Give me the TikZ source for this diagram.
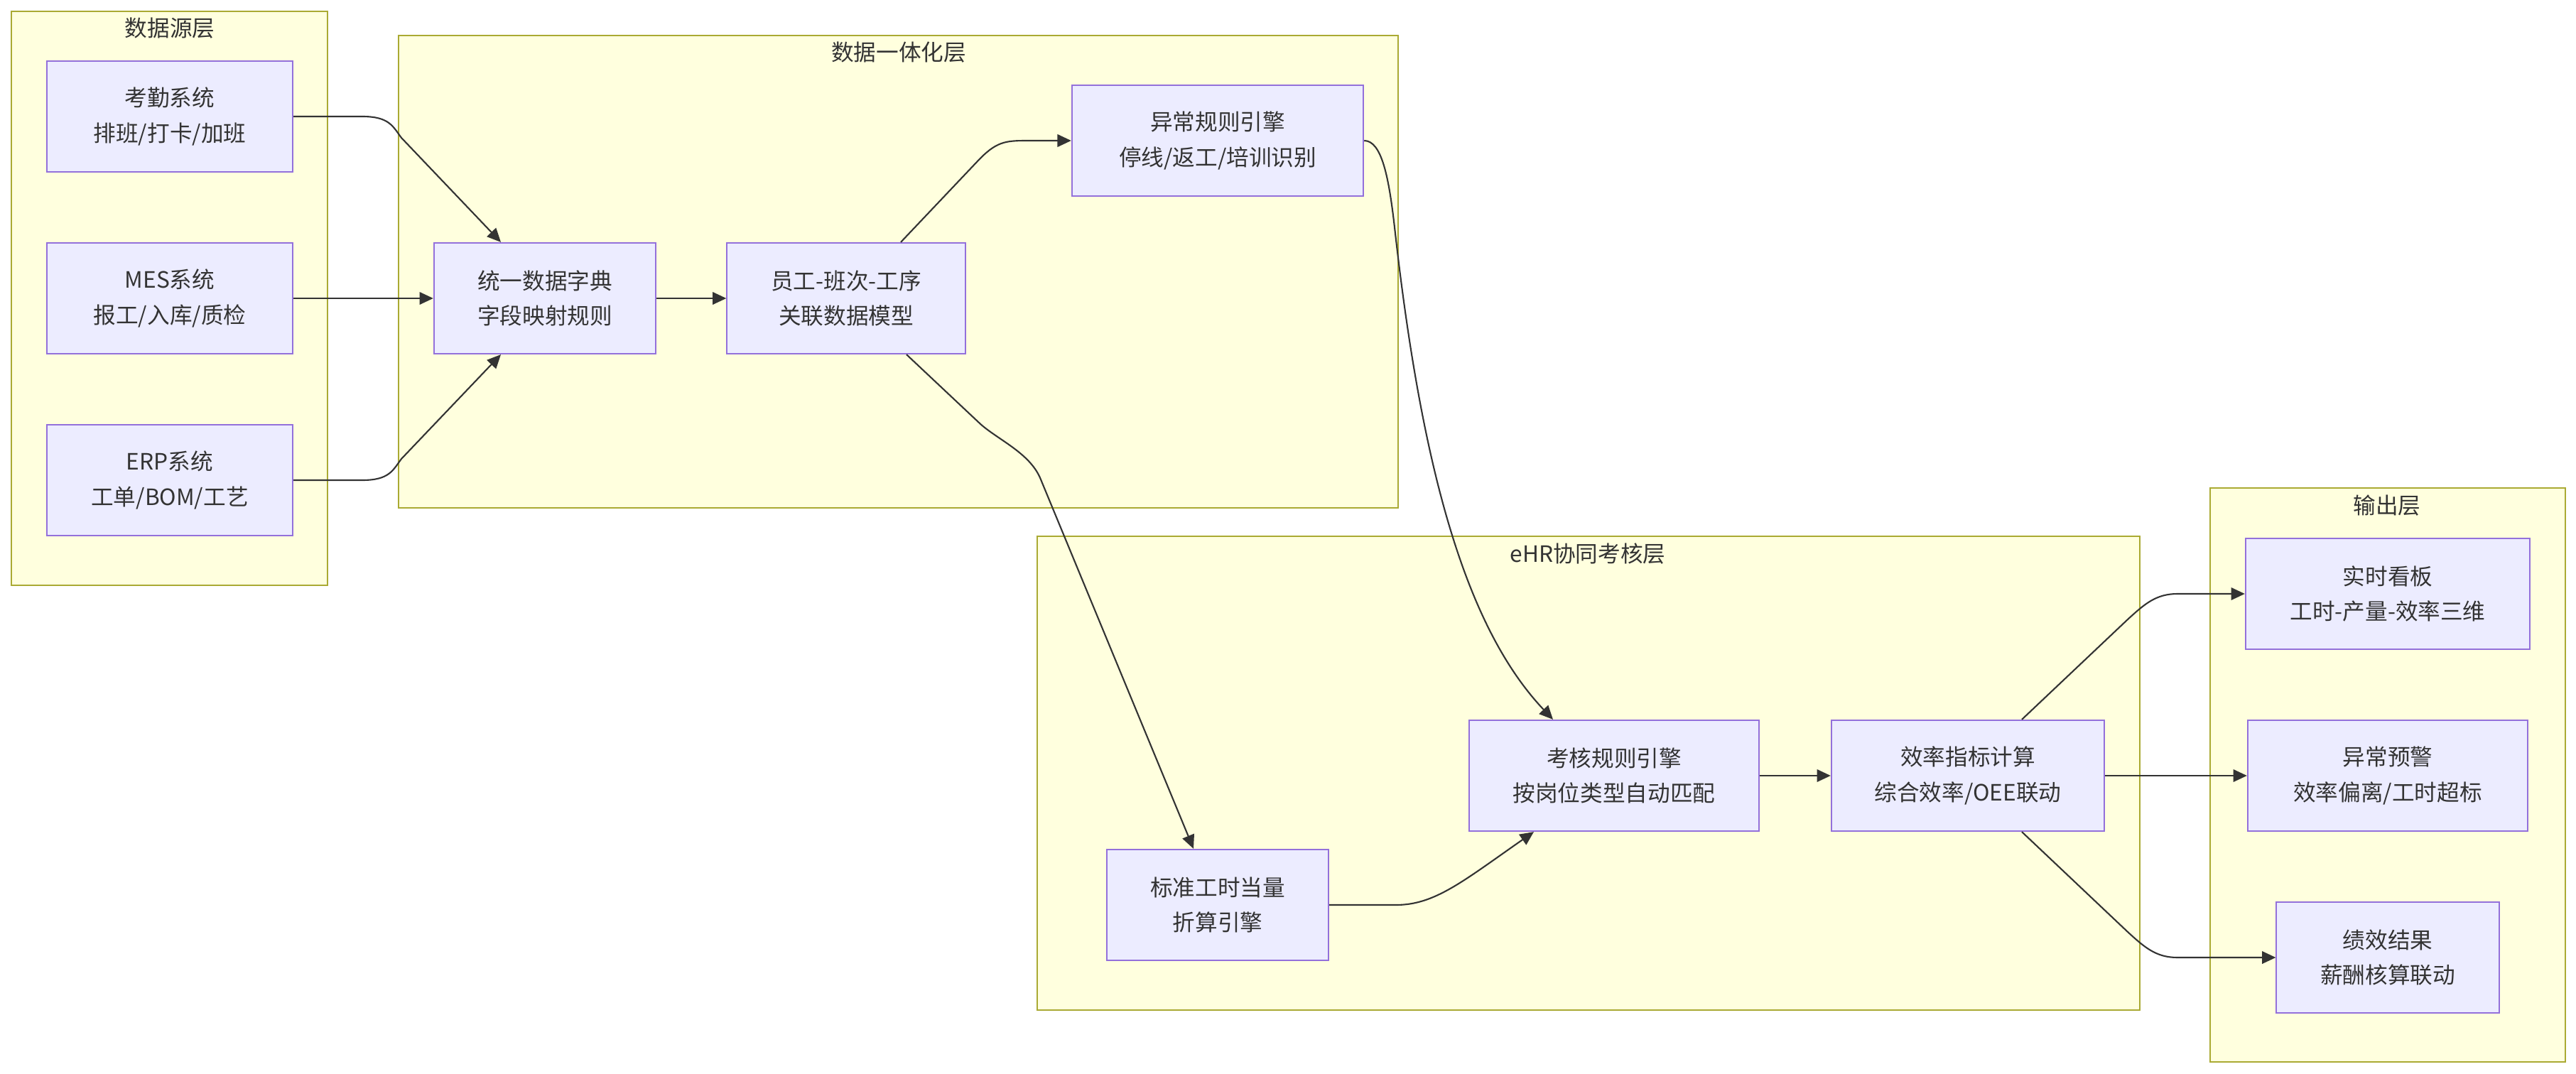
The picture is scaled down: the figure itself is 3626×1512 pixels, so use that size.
\documentclass[tikz,border=0pt]{standalone}
\usepackage{fontspec}
\setmainfont{Noto Sans CJK SC}
\usepackage{tikz}
\usetikzlibrary{arrows.meta, calc}

\definecolor{layerfill}{HTML}{FFFFDE}
\definecolor{layerline}{HTML}{AAAA33}
\definecolor{boxfill}{HTML}{ECECFF}
\definecolor{boxline}{HTML}{9370DB}
\definecolor{ink}{HTML}{333333}

\begin{document}
\begin{tikzpicture}[x=0.01cm, y=-0.01cm, >={Triangle[length=5.5pt, width=5pt]},
    layer/.style={fill=layerfill, draw=layerline, line width=0.6pt},
    ltitle/.style={text=ink, font=\fontsize{9}{14}\selectfont},
    box/.style={fill=boxfill, draw=boxline, line width=0.6pt, align=center, inner sep=0pt,
        minimum height=1.56cm, text=ink, font=\fontsize{9}{14}\selectfont},
    flow/.style={->, draw=ink, line width=0.6pt}]
    \path[use as bounding box, fill=white] (0,0) rectangle (3626,1512);

    % layers
    \draw[layer] (16,16) rectangle (461,824);
    \node[ltitle] (t1) at (239,40) {数据源层};
    \draw[layer] (561,50) rectangle (1968,715);
    \node[ltitle] (t2) at (1265,74) {数据一体化层};
    \draw[layer] (1460,755) rectangle (3012,1422);
    \node[ltitle] (t3) at (2235,780) {eHR协同考核层};
    \draw[layer] (3111,687) rectangle (3611,1495);
    \node[ltitle] (t4) at (3360,712) {输出层};

    % data sources
    \node[box, minimum width=3.46cm] (kq) at (239,164) {考勤系统\\排班/打卡/加班};
    \node[box, minimum width=3.46cm] (mes) at (239,420) {MES系统\\报工/入库/质检};
    \node[box, minimum width=3.46cm] (erp) at (239,676) {ERP系统\\工单/BOM/工艺};

    % integration
    \node[box, minimum width=3.12cm] (dict) at (767,420) {统一数据字典\\字段映射规则};
    \node[box, minimum width=3.35cm] (model) at (1191,420) {员工-班次-工序\\关联数据模型};
    \node[box, minimum width=4.10cm] (abn) at (1714,198) {异常规则引擎\\停线/返工/培训识别};

    % eHR
    \node[box, minimum width=3.12cm] (std) at (1714,1274) {标准工时当量\\折算引擎};
    \node[box, minimum width=4.07cm] (rule) at (2272,1092) {考核规则引擎\\按岗位类型自动匹配};
    \node[box, minimum width=3.84cm] (eff) at (2770,1092) {效率指标计算\\综合效率/OEE联动};

    % output
    \node[box, minimum width=4.00cm] (board) at (3361,836) {实时看板\\工时-产量-效率三维};
    \node[box, minimum width=3.94cm] (warn) at (3361,1092) {异常预警\\效率偏离/工时超标};
    \node[box, minimum width=3.13cm] (perf) at (3361,1348) {绩效结果\\薪酬核算联动};

    % connectors
    \draw[flow] (kq.east) -- (510,164) .. controls (548,164) and (553,178) .. (565,194)
        -- ($(dict.north)+(-62,0)$);
    \draw[flow] (mes.east) -- (dict.west);
    \draw[flow] (erp.east) -- (510,676) .. controls (548,676) and (553,662) .. (565,646)
        -- ($(dict.south)+(-62,0)$);
    \draw[flow] (dict.east) -- (model.west);
    \draw[flow] ($(model.north)+(77,0)$) -- (1375,228) .. controls (1402,199) and (1415,198) .. (1446,198)
        -- (abn.west);
    \draw[flow] ($(model.south)+(85,0)$) -- (1378,595) .. controls (1402,618) and (1450,637) .. (1465,675)
        -- ($(std.north)+(-34,0)$);
    \draw[flow] (abn.east) .. controls (1945,198) and (1955,250) .. (1963,320)
        .. controls (2000,650) and (2060,880) .. ($(rule.north)+(-86,0)$);
    \draw[flow] (std.east) -- (1965,1274) .. controls (2020,1274) and (2060,1240) .. ($(rule.south)+(-113,0)$);
    \draw[flow] (rule.east) -- (eff.west);
    \draw[flow] ($(eff.north)+(76,0)$) -- (2995,872) .. controls (3019,850) and (3035,836) .. (3065,836)
        -- (board.west);
    \draw[flow] (eff.east) -- (warn.west);
    \draw[flow] ($(eff.south)+(76,0)$) -- (2995,1312) .. controls (3019,1334) and (3035,1348) .. (3065,1348)
        -- (perf.west);
\end{tikzpicture}
\end{document}
